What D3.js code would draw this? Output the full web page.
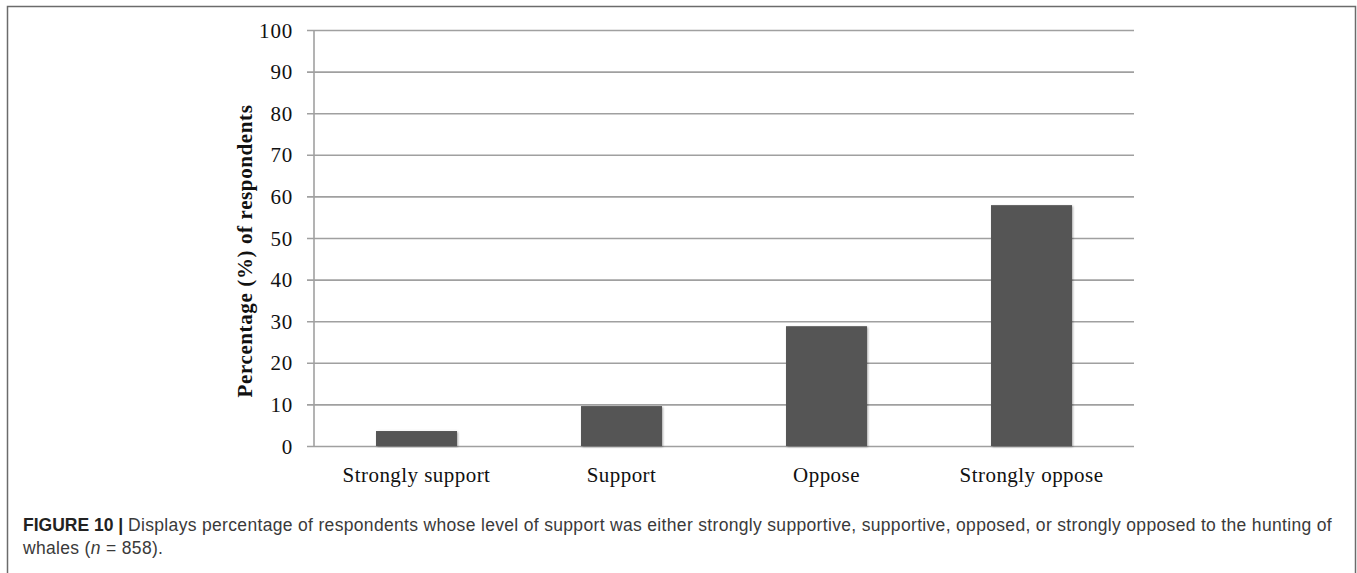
<!DOCTYPE html>
<html>
<head>
<meta charset="utf-8">
<script src="https://cdn.jsdelivr.net/npm/d3@7"></script>
<style>
  html, body { margin: 0; padding: 0; background: #fff; }
  svg { display: block; }
</style>
</head>
<body>
<svg id="chart" width="1357" height="573"></svg>
<script>
// Level of support for whale hunting among respondents
const categories = ["Strongly support", "Support", "Oppose", "Strongly oppose"];
const percentages = [3.6, 9.6, 28.8, 57.9];
const yTicks = [0, 10, 20, 30, 40, 50, 60, 70, 80, 90, 100];

const svg = d3.select("#chart");
const W = 1357, H = 573;

// outer figure frame (open at the bottom)
svg.append("path")
  .attr("d", `M7.5,${H + 2} V6.5 H1355.5 V${H + 2}`)
  .attr("fill", "none")
  .attr("stroke", "#6b6b6b")
  .attr("stroke-width", 1.5);

const plot = { left: 314, right: 1134, top: 30, bottom: 446 };
const serif = "'Liberation Serif', 'DejaVu Serif', serif";

const x = d3.scaleBand()
  .domain(categories)
  .range([plot.left, plot.right])
  .paddingInner(0.605)
  .paddingOuter(0.3025);

const y = d3.scaleLinear()
  .domain([0, 100])
  .range([plot.bottom, plot.top]);

// horizontal gridlines with short tick stubs left of the axis
const yAxis = d3.axisLeft(y)
  .tickValues(yTicks)
  .tickSize(-(plot.right - plot.left))
  .tickPadding(21)
  .tickFormat(d3.format("d"));

const gy = svg.append("g")
  .attr("transform", `translate(${plot.left},0)`)
  .call(yAxis);
gy.select(".domain").remove();
gy.selectAll(".tick line")
  .attr("x1", -7)
  .attr("stroke", "#a0a0a0")
  .attr("stroke-width", 1.6);
gy.selectAll(".tick text")
  .attr("font-family", serif)
  .attr("font-size", 21)
  .attr("letter-spacing", 0.8)
  .attr("dy", "0.34em")
  .attr("fill", "#111");

// vertical axis line
svg.append("line")
  .attr("x1", plot.left).attr("x2", plot.left)
  .attr("y1", y(100)).attr("y2", y(0))
  .attr("stroke", "#a0a0a0")
  .attr("stroke-width", 1.6);

// soft shadow under the bars
const defs = svg.append("defs");
const f = defs.append("filter").attr("id", "barShadow")
  .attr("x", "-10%").attr("y", "-10%").attr("width", "120%").attr("height", "120%");
f.append("feGaussianBlur").attr("in", "SourceAlpha").attr("stdDeviation", 1.2).attr("result", "b");
f.append("feOffset").attr("in", "b").attr("dx", 0.5).attr("dy", 0.5).attr("result", "o");
f.append("feComponentTransfer").attr("in", "o").attr("result", "s")
  .append("feFuncA").attr("type", "linear").attr("slope", 0.35);
const m = f.append("feMerge");
m.append("feMergeNode").attr("in", "s");
m.append("feMergeNode").attr("in", "SourceGraphic");

svg.append("g")
  .selectAll("rect")
  .data(categories)
  .join("rect")
  .attr("x", d => x(d))
  .attr("width", x.bandwidth())
  .attr("y", (d, i) => y(percentages[i]))
  .attr("height", (d, i) => y(0) - y(percentages[i]))
  .attr("fill", "#555555")
  .attr("filter", "url(#barShadow)");

// category labels
const xAxis = d3.axisBottom(x).tickSize(0).tickPadding(0);
const gx = svg.append("g")
  .attr("transform", `translate(0,${plot.bottom})`)
  .call(xAxis);
gx.select(".domain").remove();
gx.selectAll(".tick text")
  .attr("font-family", serif)
  .attr("font-size", 21)
  .attr("letter-spacing", 0.45)
  .attr("y", 36)
  .attr("dy", 0)
  .attr("fill", "#111");

// y-axis title, tracked out to span the plot's middle
const titleText = "Percentage (%) of respondents";
const title = svg.append("text")
  .attr("transform", `translate(252,251) rotate(-90)`)
  .attr("text-anchor", "middle")
  .attr("font-family", serif)
  .attr("font-weight", "bold")
  .attr("font-size", 21)
  .attr("fill", "#111")
  .text(titleText);
const tLen = title.node().getComputedTextLength();
title.attr("letter-spacing", Math.max(0, (293 - tLen) / titleText.length));

// figure caption
const sans = "'Liberation Sans', Arial, sans-serif";
const capLeft = 23, capRight = 1332;
const cap = svg.append("text")
  .attr("font-family", sans)
  .attr("font-size", 17.5)
  .attr("fill", "#3a3a3a");
const l1 = cap.append("tspan").attr("x", capLeft).attr("y", 531);
l1.append("tspan").attr("font-weight", "bold").attr("fill", "#222").text("FIGURE 10 | ");
const body1 = l1.append("tspan")
  .text("Displays percentage of respondents whose level of support was either strongly supportive, supportive, opposed, or strongly opposed to the hunting of");
const l2 = cap.append("tspan").attr("x", capLeft).attr("y", 554);
const b2a = l2.append("tspan").text("whales (");
const b2b = l2.append("tspan").attr("font-style", "italic").text("n");
const b2c = l2.append("tspan").text(" = 858).");

// widen the body tracking so the first line fills the caption width
const boldW = l1.select("tspan").node().getComputedTextLength();
const bodyText = body1.text();
const bodyW = body1.node().getComputedTextLength();
const spacing = (capRight - capLeft - boldW - bodyW) / bodyText.length;
[body1, b2a, b2b, b2c].forEach(s => s.attr("letter-spacing", spacing));
</script>
</body>
</html>
